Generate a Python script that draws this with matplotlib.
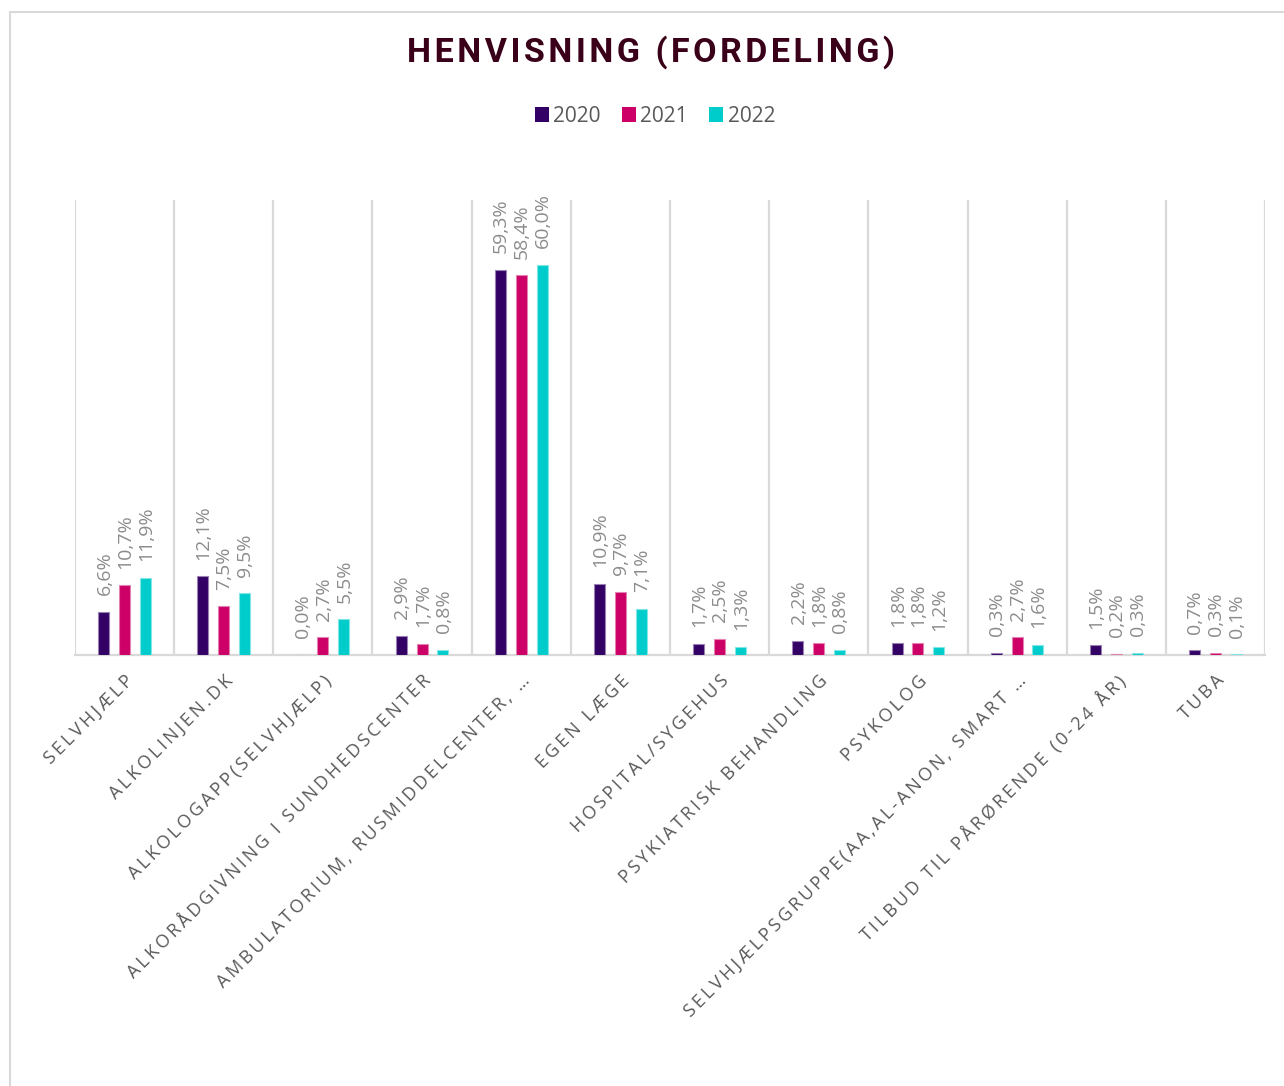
import matplotlib
matplotlib.use("Agg")
from matplotlib import pyplot as plt
from matplotlib.patches import Rectangle, Patch
import numpy as np

categories = ["SELVHJÆLP", "ALKOLINJEN.DK", "ALKOLOGAPP(SELVHJÆLP)",
              "ALKORÅDGIVNING I SUNDHEDSCENTER", "AMBULATORIUM, RUSMIDDELCENTER, …",
              "EGEN LÆGE", "HOSPITAL/SYGEHUS", "PSYKIATRISK BEHANDLING", "PSYKOLOG",
              "SELVHJÆLPSGRUPPE(AA,AL-ANON, SMART …", "TILBUD TIL PÅRØRENDE (0-24 ÅR)", "TUBA"]
years = ["2020", "2021", "2022"]
v2020 = [6.6, 12.1, 0.0, 2.9, 59.3, 10.9, 1.7, 2.2, 1.8, 0.3, 1.5, 0.7]
v2021 = [10.7, 7.5, 2.7, 1.7, 58.4, 9.7, 2.5, 1.8, 1.8, 2.7, 0.2, 0.3]
v2022 = [11.9, 9.5, 5.5, 0.8, 60.0, 7.1, 1.3, 0.8, 1.2, 1.6, 0.3, 0.1]

colors = ["#330066", "#cc0066", "#00cccc"]
edges = ["#9a80b3", "#e680b3", "#80e6e6"]

HS = "\u200a"   # hair space
TS = "\u2009"   # thin space


def spaced(s, sp):
    return sp.join(s)


fig = plt.figure(figsize=(12.84, 10.86), dpi=100)
fig.patches.append(Rectangle((10 / 1284, -0.01), 1.1, 1 - 12 / 1086 + 0.01,
                             transform=fig.transFigure, fill=False,
                             edgecolor="#d9d9d9", linewidth=1.5))

ax = fig.add_axes([75 / 1284, 1 - 655 / 1086, (1265 - 75) / 1284, (655 - 200) / 1086])

x = np.arange(len(categories))
width = 0.11
step = 0.21
for i, vals in enumerate([v2020, v2021, v2022]):
    pos = x + (i - 1) * step
    ax.bar(pos, vals, width=width, color=colors[i], edgecolor=edges[i], linewidth=0.8,
           zorder=3)
    for p, v in zip(pos, vals):
        ax.annotate(f"{v:.1f}%".replace(".", ","), (p, v), xytext=(0.5, 12),
                    textcoords="offset points", rotation=90, ha="center", va="bottom",
                    fontsize=14, color="#8c8c8c", family=["Open Sans", "DejaVu Sans"])

ax.set_xlim(-0.5, len(categories) - 0.5)
ax.set_ylim(0, 70)
for b in np.arange(-0.5, len(categories), 1.0):
    ax.axvline(b, color="#d9d9d9", linewidth=1.6, zorder=1)
for s in ["top", "left", "right"]:
    ax.spines[s].set_visible(False)
ax.spines["bottom"].set_color("#d9d9d9")
ax.spines["bottom"].set_linewidth(1.6)
ax.set_yticks([])
ax.set_xticks(x)
ax.set_xticklabels([spaced(c, TS) for c in categories], rotation=45, ha="right",
                   rotation_mode="anchor", fontsize=13, color="#595959",
                   family=["Open Sans", "DejaVu Sans"])
ax.tick_params(axis="x", length=0, pad=12)

fig.text(0.507, 1 - 52 / 1086, spaced("HENVISNING (FORDELING)", HS), ha="center",
         va="center", fontsize=24.5, fontweight="bold", color="#3a0019",
         family=["Roboto", "DejaVu Sans"])

handles = [Patch(facecolor=c) for c in colors]
fig.legend(handles, years, loc="center", bbox_to_anchor=(0.51, 1 - 116 / 1086), ncol=3,
           frameon=False, handlelength=0.7, handleheight=0.7, handletextpad=0.2,
           columnspacing=1.0, prop={"family": "Open Sans", "size": 15},
           labelcolor="#595959")

fig.savefig("out.png", dpi=100)
